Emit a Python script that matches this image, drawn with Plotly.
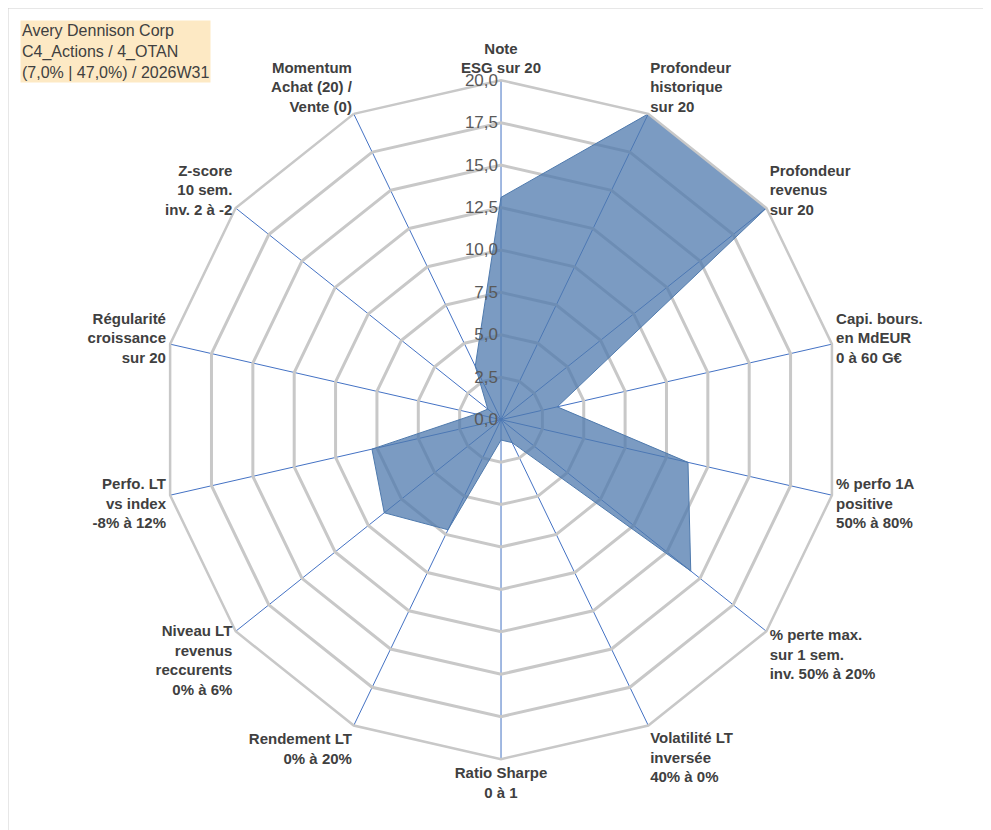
import plotly.graph_objects as go

# Critères du radar (sens horaire depuis le haut)
criteres = [
    "Note<br>ESG sur 20",
    "Profondeur<br>historique<br>sur 20",
    "Profondeur<br>revenus<br>sur 20",
    "Capi. bours.<br>en MdEUR<br>0 à 60 G€",
    "% perfo 1A<br>positive<br>50% à 80%",
    "% perte max.<br>sur 1 sem.<br>inv. 50% à 20%",
    "Volatilité LT<br>inversée<br>40% à 0%",
    "Ratio Sharpe<br>0 à 1",
    "Rendement LT<br>0% à 20%",
    "Niveau LT<br>revenus<br>reccurents<br>0% à 6%",
    "Perfo. LT<br>vs index<br>-8% à 12%",
    "Régularité<br>croissance<br>sur 20",
    "Z-score<br>10 sem.<br>inv. 2 à -2",
    "Momentum<br>Achat (20) /<br>Vente (0)",
]
notes = [13.1, 20, 20, 3.4, 11.3, 14.3, 1.5, 1.2, 7.2, 8.8, 7.8, 1.5, 1.0, 3.5]
ticks = [0, 2.5, 5, 7.5, 10, 12.5, 15, 17.5, 20]

fig = go.Figure(go.Scatterpolar(
    r=notes + notes[:1],
    theta=criteres + criteres[:1],
    fill='toself',
    fillcolor='rgba(79,122,173,0.75)',
    line=dict(color='#4f7aad', width=1),
    mode='lines',
    hoverinfo='skip'
))

fig.update_layout(
    width=991, height=830,
    separators=', ',
    paper_bgcolor='white',
    showlegend=False,
    margin=dict(l=0, r=0, t=0, b=0),
    font=dict(family='Liberation Sans, Arial', color='#404040'),
    polar=dict(
        domain=dict(x=[0.155, 0.84], y=[0.093, 0.915]),
        gridshape='linear',
        bgcolor='white',
        radialaxis=dict(
            range=[0, 20], tickvals=ticks, tickformat='.1f',
            angle=90, tickangle=90, side='counterclockwise', showline=False,
            gridcolor='#c8c8c8', gridwidth=2.5,
            tickfont=dict(size=17, color='#595959'),
        ),
        angularaxis=dict(
            direction='clockwise', rotation=90,
            gridcolor='#4472c4', gridwidth=1,
            linecolor='#c8c8c8', linewidth=2.5,
            ticks='', tickfont=dict(size=15, color='#404040'),
            tickvals=criteres,
            ticktext=["<b>" + c + "</b>" for c in criteres],
        ),
    ),
    annotations=[dict(
        x=0.012, y=0.985, xref='paper', yref='paper', xanchor='left', yanchor='top',
        align='left', showarrow=False, bgcolor='#fde9c4',
        text="Avery Dennison Corp<br>C4_Actions / 4_OTAN<br>(7,0% | 47,0%) / 2026W31",
        font=dict(size=16, color='#404040'),
    )],
    shapes=[dict(type='rect', xref='paper', yref='paper', x0=0, y0=0, x1=1, y1=1,
                 line=dict(color='#d0d0d0', width=1))],
)

fig.write_html("out.html")
